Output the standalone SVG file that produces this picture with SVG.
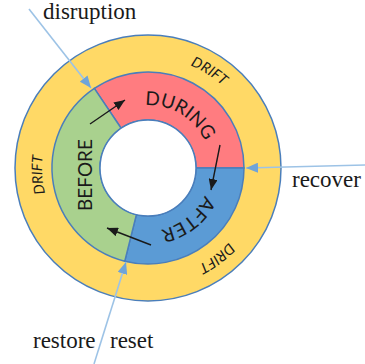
<svg xmlns="http://www.w3.org/2000/svg" width="365" height="364" viewBox="0 0 365 364">
  <style>
    .ring { stroke: #4A7EBB; stroke-width: 1.5; }
    .phase { font-family: Lato, "Liberation Sans", sans-serif; font-size: 19px; fill: #1a1a1a; }
    .drift { font-family: Lato, "Liberation Sans", sans-serif; font-size: 14.5px; font-style: italic; fill: #1a1a1a; }
    .label { font-family: "Liberation Serif", serif; font-size: 23px; fill: #1a1a1a; }
    .flow { stroke: #1a1a1a; stroke-width: 1.4; fill: none; }
    .event { stroke: #9DC3E6; stroke-width: 1.6; fill: none; }
  </style>
  <defs>
    <marker id="headBlack" markerUnits="userSpaceOnUse" markerWidth="11" markerHeight="9" refX="11" refY="4.5" orient="auto">
      <path d="M0,0 L11,4.5 L0,9 z" fill="#1a1a1a"/>
    </marker>
    <marker id="headBlue" markerUnits="userSpaceOnUse" markerWidth="12" markerHeight="10" refX="12" refY="5" orient="auto">
      <path d="M0,0 L12,5 L0,10 z" fill="#6FA4DA"/>
    </marker>
    <!-- clockwise arcs used as text baselines -->
    <path id="arcDuring" d="M 122.38 110.45 A 63 63 0 0 1 210.85 163.60"/>
    <path id="arcAfter" d="M 210.91 164.70 A 63 63 0 0 1 129.58 228.25"/>
    <path id="arcDriftTop" d="M 133.13 58.0 A 111 111 0 0 1 253.75 134.25"/>
    <path id="arcDriftLeft" d="M 71.23 241.10 A 106 106 0 0 1 62.68 105.10"/>
    <path id="arcDriftBottom" d="M 255.30 192.18 A 109 109 0 0 1 142.87 276.88"/>
  </defs>

  <rect width="365" height="364" fill="#ffffff"/>

  <!-- outer drift ring -->
  <g id="drift">
    <circle cx="148" cy="168" r="133" fill="#FFD966" class="ring"/>
    <text class="drift"><textPath href="#arcDriftTop" startOffset="50%" text-anchor="middle">DRIFT</textPath></text>
    <text class="drift"><textPath href="#arcDriftLeft" startOffset="50%" text-anchor="middle">DRIFT</textPath></text>
    <text class="drift"><textPath href="#arcDriftBottom" startOffset="50%" text-anchor="middle">DRIFT</textPath></text>
  </g>

  <g id="during">
    <path class="ring" fill="#FF7C80" d="M 94.32 88.42 A 96 96 0 0 1 244 168 L 196 168 A 48 48 0 0 0 121.16 128.21 Z"/>
    <text class="phase"><textPath href="#arcDuring" startOffset="50%" text-anchor="middle">DURING</textPath></text>
  </g>

  <g id="after">
    <path class="ring" fill="#5B9BD5" d="M 244 168 A 96 96 0 0 1 124.77 261.15 L 136.39 214.57 A 48 48 0 0 0 196 168 Z"/>
    <text class="phase"><textPath href="#arcAfter" startOffset="50%" text-anchor="middle">AFTER</textPath></text>
  </g>

  <g id="before">
    <path class="ring" fill="#A9D18E" d="M 124.77 261.15 A 96 96 0 0 1 94.32 88.42 L 121.16 128.21 A 48 48 0 0 0 136.39 214.57 Z"/>
    <text class="phase" transform="translate(92,175) rotate(-90)" text-anchor="middle">BEFORE</text>
  </g>

  <g id="hub">
    <circle cx="148" cy="168" r="48" fill="#ffffff" class="ring"/>
  </g>

  <g id="connectors">
    <line class="flow" x1="90" y1="124" x2="125" y2="100" marker-end="url(#headBlack)"/>
    <line class="flow" x1="220" y1="145" x2="211" y2="190" marker-end="url(#headBlack)"/>
    <line class="flow" x1="151" y1="245" x2="107" y2="228" marker-end="url(#headBlack)"/>
    <line class="event" x1="29" y1="9" x2="91" y2="88" marker-end="url(#headBlue)"/>
    <line class="event" x1="365" y1="165" x2="246" y2="168" marker-end="url(#headBlue)"/>
    <line class="event" x1="94" y1="364" x2="126" y2="262" marker-end="url(#headBlue)"/>
  </g>

  <g id="labels">
    <text class="label" x="43" y="19">disruption</text>
    <text class="label" x="292" y="187">recover</text>
    <text class="label" y="348"><tspan x="33">restore</tspan> <tspan x="110">reset</tspan></text>
  </g>
</svg>
